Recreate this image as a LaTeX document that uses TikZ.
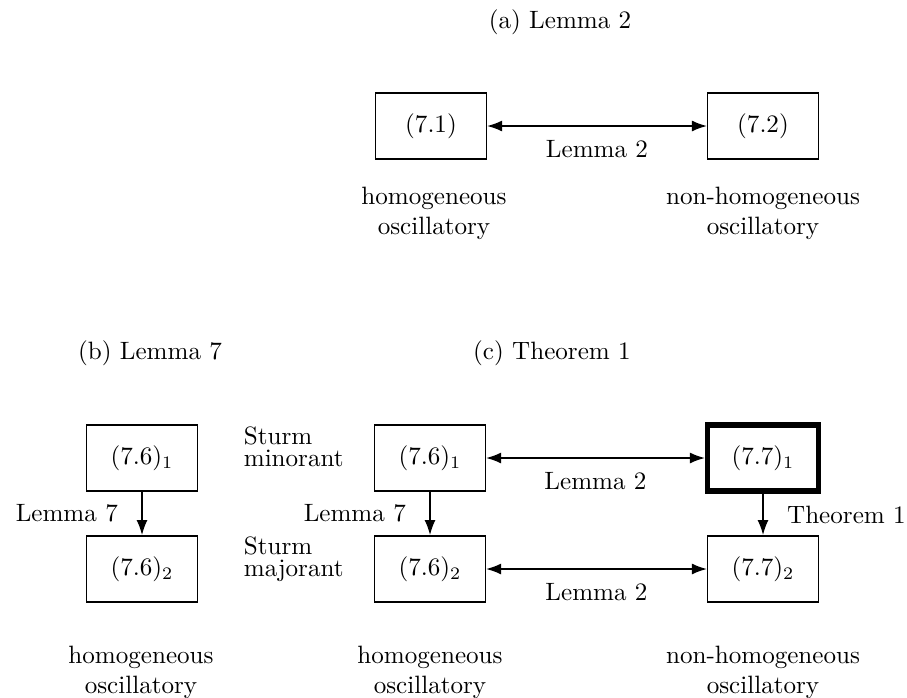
\documentclass[tikz,border=0pt]{standalone}
\usepackage{amsmath}
\usepackage{tikz}
\usetikzlibrary{arrows.meta}

\begin{document}
\begin{tikzpicture}[x=0.014cm,y=-0.014cm,
        >={Latex[length=6pt,width=4.4pt]},
        eqbox/.style={draw,line width=0.6pt,minimum width=1.55cm,minimum height=0.93cm,inner sep=0pt},
        mainbox/.style={eqbox,line width=2.2pt},
        conn/.style={line width=0.6pt},
        caption/.style={align=center},
        sturm/.style={align=left,anchor=west}]

        \useasboundingbox (0,0) rectangle (907,697);

        % (a) Lemma 2
        \node (ta) at (560,22) {(a) Lemma 2};
        \node[eqbox] (a1) at (431,126) {$(7.1)$};
        \node[eqbox] (a2) at (763,126) {$(7.2)$};
        \draw[conn,<->] (a1) -- node[below=2pt] {Lemma 2} (a2);
        \node[caption] (ha) at (434,213) {homogeneous\\oscillatory};
        \node[caption] (na) at (763,213) {non-homogeneous\\oscillatory};

        % (b) Lemma 7
        \node (tb) at (150,353) {(b) Lemma 7};
        \node[eqbox] (b1) at (142,458) {$(7.6)_1$};
        \node[eqbox] (b2) at (142,569) {$(7.6)_2$};
        \draw[conn,->] (b1) -- node[left=6pt] {Lemma 7} (b2);
        \node[caption] (hb) at (141,672) {homogeneous\\oscillatory};

        % (c) Theorem 1
        \node (tc) at (552,353) {(c) Theorem 1};
        \node[eqbox] (c61) at (430,458) {$(7.6)_1$};
        \node[mainbox] (c71) at (763,458) {$(7.7)_1$};
        \node[eqbox] (c62) at (430,569) {$(7.6)_2$};
        \node[eqbox] (c72) at (763,569) {$(7.7)_2$};
        \draw[conn,<->] (c61) -- node[below=2pt] {Lemma 2} (c71);
        \draw[conn,<->] (c62) -- node[below=2pt] {Lemma 2} (c72);
        \draw[conn,->] (c61) -- node[left=6pt] {Lemma 7} (c62);
        \draw[conn,->] (c71) -- node[right=6pt] {Theorem 1} (c72);
        \node[sturm] (smin) at (235,447) {Sturm\\[-3.2pt]minorant};
        \node[sturm] (smaj) at (235,559) {Sturm\\[-3.2pt]majorant};
        \node[caption] (hc) at (430,672) {homogeneous\\oscillatory};
        \node[caption] (nc) at (763,672) {non-homogeneous\\oscillatory};

    \end{tikzpicture}
\end{document}
